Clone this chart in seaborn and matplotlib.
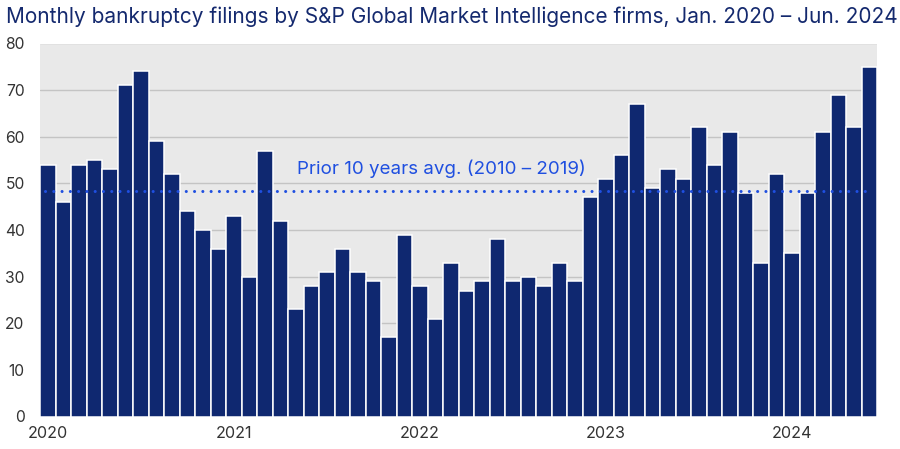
import matplotlib
matplotlib.use("Agg")
import matplotlib.pyplot as plt
import seaborn as sns
import pandas as pd

# ---- data ----
months = pd.date_range("2020-01-01", "2024-06-01", freq="MS").strftime("%Y-%m").tolist()
filings = [
    54, 46, 54, 55, 53, 71, 74, 59, 52, 44, 40, 36,   # 2020
    43, 30, 57, 42, 23, 28, 31, 36, 31, 29, 17, 39,   # 2021
    28, 21, 33, 27, 29, 38, 29, 30, 28, 33, 29, 47,   # 2022
    51, 56, 67, 49, 53, 51, 62, 54, 61, 48, 33, 52,   # 2023
    35, 48, 61, 69, 62, 75,                           # 2024
]
year_labels = ["2020", "2021", "2022", "2023", "2024"]
y_ticks = [0, 10, 20, 30, 40, 50, 60, 70, 80]
prior_avg = 48.3
title = "Monthly bankruptcy filings by S&P Global Market Intelligence firms, Jan. 2020 \u2013 Jun. 2024"
avg_label = "Prior 10 years avg. (2010 \u2013 2019)"

df = pd.DataFrame({"month": months, "filings": filings})

sns.set_theme(style="white")
plt.rcParams["font.family"] = ["Inter", "DejaVu Sans"]

BAR = "#0f2870"
NAVY = "#14296e"
BLUE = "#1f4fe0"

fig = plt.figure(figsize=(9, 4.49), dpi=100)
W, H = 900, 449
left, right, top, bottom = 40, 877, 43.5, 416.5
ax = fig.add_axes([left / W, (H - bottom) / H, (right - left) / W, (bottom - top) / H])
ax.set_facecolor("#e9e9e9")

sns.barplot(data=df, x="month", y="filings", color=BAR, width=1.0,
            edgecolor="white", linewidth=1.1, saturation=1, ax=ax, zorder=2)

ax.set_xlim(-0.5, len(months) - 0.5)
ax.set_ylim(0, 80)
ax.set_yticks(y_ticks)
ax.set_yticklabels([str(t) for t in y_ticks])
year_pos = [i for i, m in enumerate(months) if m.endswith("-01")]
ax.set_xticks(year_pos)
ax.set_xticklabels(year_labels)
ax.set_xlabel("")
ax.set_ylabel("")

ax.yaxis.grid(True, color="#c4c4c4", linewidth=1.0, zorder=0)
ax.set_axisbelow(True)
for s in ax.spines.values():
    s.set_visible(False)
ax.tick_params(axis="y", length=0, pad=11, labelsize=11.3, labelcolor="#333333")
ax.tick_params(axis="x", length=0, pad=7, labelsize=11.6, labelcolor="#333333")

# prior-years average dotted line
ax.plot([-0.2, 52.7], [prior_avg, prior_avg], color=BLUE, linewidth=2.2,
        linestyle=(0, (0.01, 2.7)), dash_capstyle="round", zorder=3)
ax.text(25.4, 53.1, avg_label, color=BLUE, fontsize=13.5, ha="center", va="center", zorder=4)

fig.text(6 / W, 1 - 17 / H, title, color=NAVY, fontsize=15.0, ha="left", va="center")

fig.savefig("out.png", dpi=100)
